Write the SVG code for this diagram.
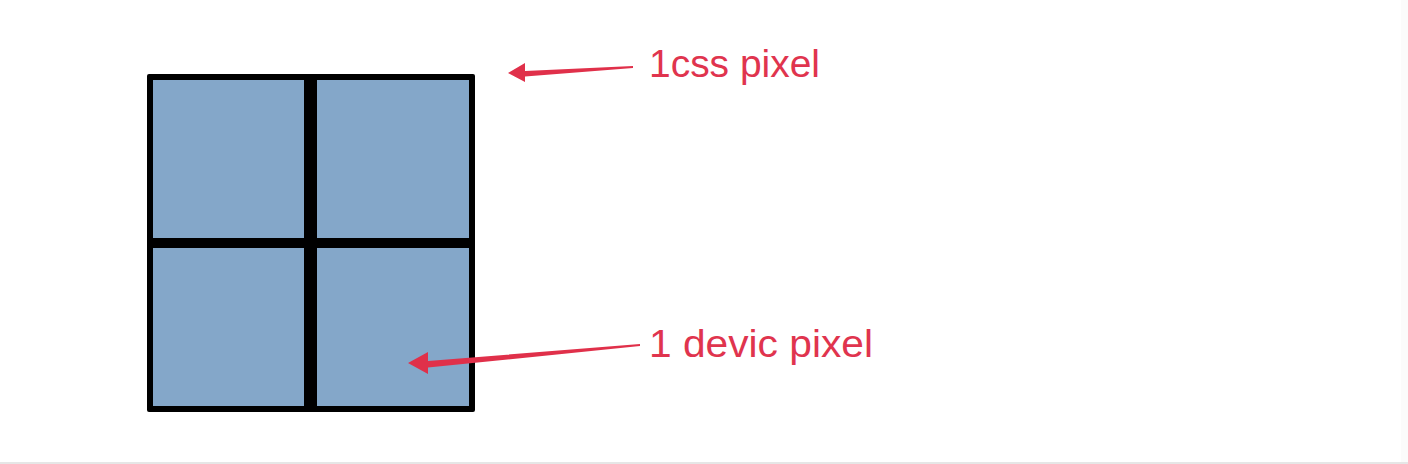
<svg xmlns="http://www.w3.org/2000/svg" width="1408" height="464" viewBox="0 0 1408 464">
<style>
.cell{fill:#84a7c9}
.ln{fill:#000}
.lbl{font-family:"Liberation Sans",Arial,sans-serif;font-size:39px;fill:#e0344e}
.arr{fill:#e0304a}
</style>
<rect x="0" y="0" width="1408" height="464" fill="#ffffff"/>
<rect x="1401" y="0" width="7" height="464" fill="#fbfbfb"/>
<rect x="0" y="462" width="1408" height="2" fill="#e6e6e6"/>
<g id="grid">
<rect x="147" y="74" width="328" height="338" class="ln" rx="2"/>
<rect x="153" y="80" width="151" height="158" class="cell"/>
<rect x="317" y="80" width="152" height="158" class="cell"/>
<rect x="153" y="248" width="151" height="158" class="cell"/>
<rect x="317" y="248" width="152" height="158" class="cell"/>
</g>
<g id="connectors">
<polygon class="arr" points="633,66 633,68 525,76.5 525,82 508,73 525,63 525,71"/>
<polygon class="arr" points="640,344 640,346 428,367.5 428,374 408,363 428,352 428,361"/>
</g>
<g id="label-css">
<text class="lbl" x="649" y="77" textLength="171" lengthAdjust="spacingAndGlyphs">1css pixel</text>
</g>
<g id="label-device">
<text class="lbl" x="649" y="357" textLength="224" lengthAdjust="spacingAndGlyphs">1 devic pixel</text>
</g>
</svg>
